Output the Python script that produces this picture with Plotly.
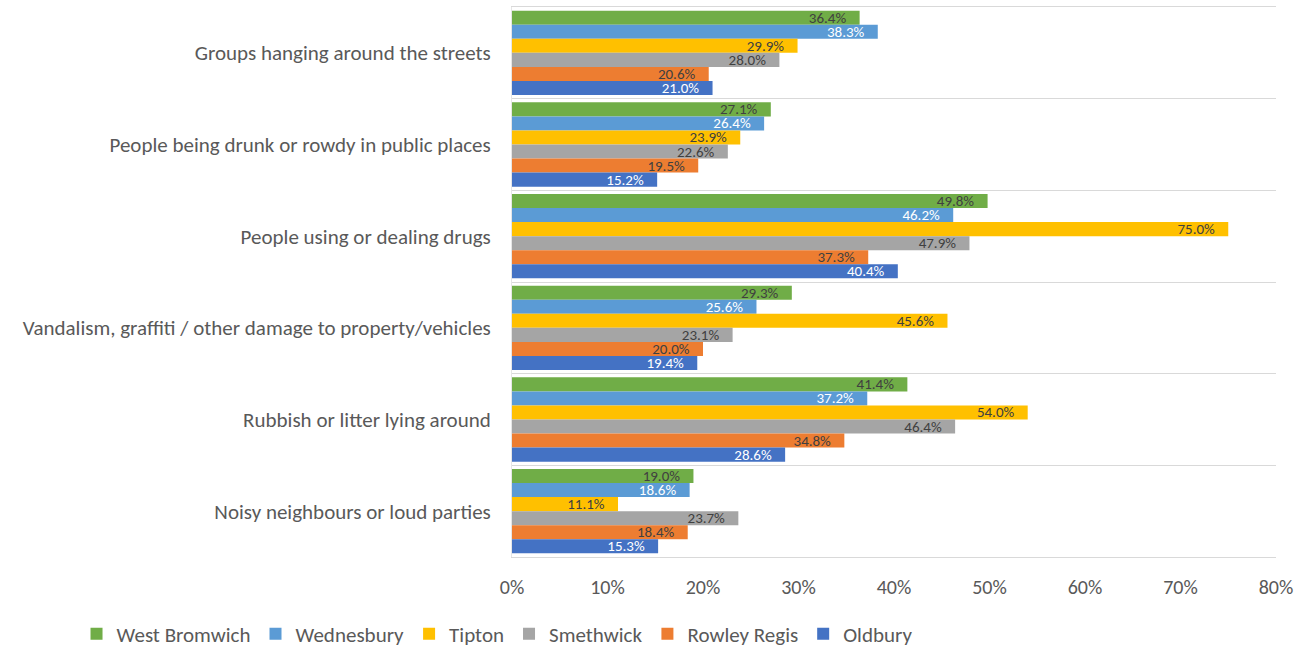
import plotly.graph_objects as go

# Survey categories (top to bottom)
categories = [
    "Groups hanging around the streets",
    "People being drunk or rowdy in public places",
    "People using or dealing drugs",
    "Vandalism, graffiti / other damage to property/vehicles",
    "Rubbish or litter lying around",
    "Noisy neighbours or loud parties",
]

# Percentage of respondents per town
west_bromwich = [36.4, 27.1, 49.8, 29.3, 41.4, 19.0]
wednesbury = [38.3, 26.4, 46.2, 25.6, 37.2, 18.6]
tipton = [29.9, 23.9, 75.0, 45.6, 54.0, 11.1]
smethwick = [28.0, 22.6, 47.9, 23.1, 46.4, 23.7]
rowley_regis = [20.6, 19.5, 37.3, 20.0, 34.8, 18.4]
oldbury = [21.0, 15.2, 40.4, 19.4, 28.6, 15.3]

x_ticks = [0, 10, 20, 30, 40, 50, 60, 70, 80]
x_tick_labels = ["0%", "10%", "20%", "30%", "40%", "50%", "60%", "70%", "80%"]

FONT = "Calibri, Carlito, Lato, sans-serif"
GREY = "#595959"
DARK = "#404040"

series = [
    ("West Bromwich", west_bromwich, "#70AD47", DARK),
    ("Wednesbury", wednesbury, "#5B9BD5", "#FFFFFF"),
    ("Tipton", tipton, "#FFC000", DARK),
    ("Smethwick", smethwick, "#A5A5A5", DARK),
    ("Rowley Regis", rowley_regis, "#ED7D31", DARK),
    ("Oldbury", oldbury, "#4472C4", "#FFFFFF"),
]

positions = list(range(len(categories)))

fig = go.Figure()
for name, values, colour, text_colour in series:
    fig.add_trace(
        go.Bar(
            name=name,
            x=values,
            y=positions,
            orientation="h",
            marker=dict(color=colour, line=dict(width=0)),
            # trailing en space + thin space keep the label clear of the bar end
            texttemplate="%{x:.1f}%\u2002\u2009",
            textposition="inside",
            insidetextanchor="end",
            constraintext="none",
            textfont=dict(family=FONT, size=15, color=text_colour),
            hovertemplate="%{x:.1f}%<extra>" + name + "</extra>",
        )
    )

fig.update_layout(
    width=1294,
    height=647,
    margin=dict(l=512, r=18, t=7, b=90, autoexpand=False),
    paper_bgcolor="white",
    plot_bgcolor="white",
    barmode="group",
    bargap=0.08,
    bargroupgap=0,
    font=dict(family=FONT, size=21, color=GREY),
    legend=dict(
        orientation="h",
        x=-0.570,
        xanchor="left",
        y=-0.14,
        yanchor="middle",
        font=dict(family=FONT, size=21, color=GREY),
        itemwidth=30,
        tracegroupgap=0,
        bgcolor="rgba(0,0,0,0)",
    ),
    xaxis=dict(
        range=[0, 80],
        tickvals=x_ticks,
        ticktext=x_tick_labels,
        showgrid=False,
        zeroline=False,
        showline=True,
        linecolor="#D9D9D9",
        linewidth=1,
        mirror=True,
        ticks="",
        ticklabelstandoff=12,
        tickfont=dict(family=FONT, size=20, color=GREY),
    ),
    yaxis=dict(
        range=[5.5, -0.5],
        tickvals=positions,
        ticktext=categories,
        showgrid=False,
        zeroline=False,
        showline=True,
        linecolor="#E6E6E6",
        linewidth=1,
        ticks="",
        ticklabelstandoff=16,
        tickfont=dict(family=FONT, size=21, color=GREY),
        minor=dict(
            tickmode="linear",
            tick0=0.5,
            dtick=1,
            showgrid=True,
            gridcolor="#D9D9D9",
            gridwidth=1,
            ticks="",
        ),
    ),
)

fig.write_html("out.html")
